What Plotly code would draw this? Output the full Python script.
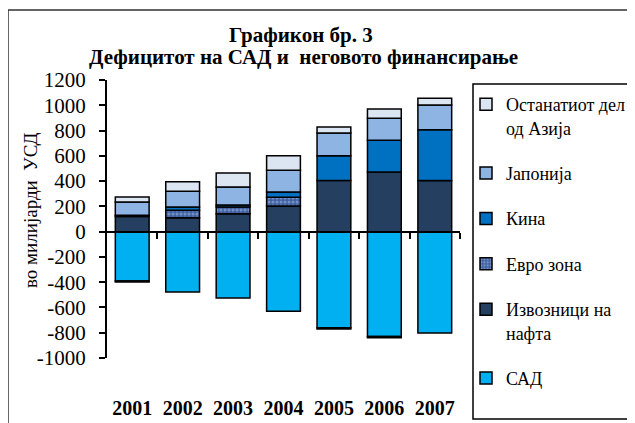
import plotly.graph_objects as go

years = ['2001', '2002', '2003', '2004', '2005', '2006', '2007']
usa = [-390, -477, -525, -631, -760, -830, -802]
oil_exporters = [120, 110, 142, 203, 404, 472, 404]
euro_zone = [-8, 60, 53, 69, -10, -10, 0]
china = [10, 25, 16, 42, 197, 251, 403]
japan = [104, 124, 142, 171, 180, 174, 196]
rest_asia = [40, 76, 111, 116, 47, 74, 52]

y_ticks = [1200, 1000, 800, 600, 400, 200, 0, -200, -400, -600, -800, -1000]
y_tick_text = [str(v) for v in y_ticks]

FONT = "Liberation Serif"
OFF = 8  # page body margin
W, H = 635 - OFF, 423 - OFF
# plot area in page pixels
L, R, T, B = 107 - OFF, 460 - OFF, 80 - OFF, 358 - OFF
ymin, ymax = -1000, 1200

def px_x(p):
    return (p - OFF - L) / (R - L)

def px_y(p):
    return (B - (p - OFF)) / (B - T)

fig = go.Figure()
line = dict(color="black", width=1.5)

series = [
    ("САД", usa, "#00B0F0", None),
    ("Извозници на<br>нафта", oil_exporters, "#243F60", None),
    ("Евро зона", euro_zone, "#3F5F9F", dict(shape=".", fgcolor="#A9C4EE", bgcolor="#3F5F9F", size=4, solidity=0.45)),
    ("Кина", china, "#0070C0", None),
    ("Јапонија", japan, "#8EB4E3", None),
    ("Останатиот дел<br>од Азија", rest_asia, "#DCE6F2", None),
]
n = len(series)
for i, (name, vals, col, pat) in enumerate(series):
    marker = dict(color=col, line=line)
    if pat:
        marker["pattern"] = pat
    fig.add_trace(go.Bar(x=years, y=vals, name=name, marker=marker,
                         legendgroup=str(i), legendrank=n - i))

# dummy trace to register the zero-line axis
fig.add_trace(go.Scatter(x=[], y=[], xaxis="x2", showlegend=False, hoverinfo="skip"))

zero_pos = (0 - ymin) / (ymax - ymin)

fig.update_layout(
    width=W, height=H,
    barmode="relative",
    bargap=0.33,
    plot_bgcolor="white", paper_bgcolor="white",
    margin=dict(l=L, r=W - R, t=T, b=H - B, autoexpand=False),
    font=dict(family=FONT, color="black", size=18),
    xaxis=dict(
        type="category", showline=False, showgrid=False, zeroline=False,
        ticks="", ticklabelstandoff=36,
        tickfont=dict(family=FONT, size=20, color="black", weight="bold"),
    ),
    xaxis2=dict(
        overlaying="x", anchor="free", position=zero_pos,
        range=[-0.5, 6.5], tickmode="array", tickvals=[0.5, 1.5, 2.5, 3.5, 4.5, 5.5, 6.5],
        showticklabels=False, ticks="outside", ticklen=6, tickwidth=1.5, tickcolor="black",
        showline=True, linecolor="black", linewidth=2, showgrid=False, zeroline=False,
    ),
    yaxis=dict(
        range=[ymin, ymax], tickmode="array", tickvals=y_ticks, ticktext=y_tick_text,
        ticks="outside", ticklen=6, tickwidth=1.5, tickcolor="black",
        ticklabelstandoff=9,
        showline=True, linecolor="black", linewidth=2,
        showgrid=False, zeroline=False,
        tickfont=dict(family=FONT, size=21, color="black"),
    ),
    legend=dict(
        x=px_x(466), y=px_y(86), xanchor="left", yanchor="top",
        traceorder="grouped", tracegroupgap=19, valign="top",
        borderwidth=0, bgcolor="rgba(0,0,0,0)",
        font=dict(family=FONT, size=18, color="black"),
        itemwidth=30, maxheight=400,
    ),
    showlegend=True,
)

# y axis title
fig.add_annotation(text="во милијарди\u00a0 УСД", xref="paper", yref="paper",
                   x=px_x(30), y=px_y(211), xanchor="center", yanchor="middle",
                   textangle=-90, showarrow=False,
                   font=dict(family=FONT, size=19, color="black"))

# title lines
fig.add_annotation(text="<b>Графикон бр. 3</b>", xref="paper", yref="paper",
                   x=px_x(301), y=px_y(35), xanchor="center", yanchor="middle",
                   showarrow=False, font=dict(family=FONT, size=21, color="black"))
fig.add_annotation(text="<b>Дефицитот на САД и\u00a0 неговото финансирање</b>", xref="paper", yref="paper",
                   x=px_x(303), y=px_y(57), xanchor="center", yanchor="middle",
                   showarrow=False, font=dict(family=FONT, size=21, color="black"))

# outer chart border
fig.add_shape(type="rect", xref="paper", yref="paper",
              x0=px_x(8), x1=px_x(760), y0=px_y(520), y1=px_y(10),
              line=dict(color="#333333", width=1.5), fillcolor="rgba(0,0,0,0)", layer="below")
# legend box
fig.add_shape(type="rect", xref="paper", yref="paper",
              x0=px_x(473), x1=px_x(760), y0=px_y(419), y1=px_y(84),
              line=dict(color="black", width=1.5), fillcolor="rgba(0,0,0,0)", layer="below")

fig.write_html("out.html")
